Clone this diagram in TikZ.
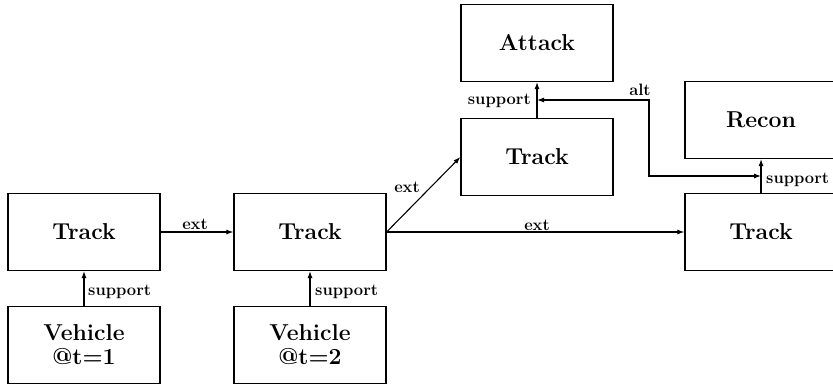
\documentclass[tikz,border=0pt]{standalone}
\usetikzlibrary{arrows.meta,calc}
\begin{document}
\begin{tikzpicture}[x=1pt,y=-1pt,
  box/.style={draw,line width=1.2pt,rectangle,minimum width=152pt,minimum height=77pt,
    inner sep=0pt,align=center,font=\fontsize{23}{24}\selectfont\bfseries},
  arr/.style={line width=1.1pt,-{Latex[length=7pt,width=5pt]}},
  lbl/.style={inner sep=0pt,font=\fontsize{16.5}{16.5}\selectfont\bfseries}]
\useasboundingbox (0,0) rectangle (833,388);

% boxes
\node[box] (t1) at (84,232) {Track};
\node[box] (v1) at (84,345) {Vehicle\\@t=1};
\node[box] (t2) at (310,232) {Track};
\node[box] (v2) at (310,345) {Vehicle\\@t=2};
\node[box] (attack) at (537,43) {Attack};
\node[box] (t3) at (537,157) {Track};
\node[box] (recon) at (761,120) {Recon};
\node[box] (t4) at (761,232) {Track};

% support links
\draw[arr] (v1.north) -- (t1.south);
\draw[arr] (v2.north) -- (t2.south);
\draw[arr] (t3.north) -- (attack.south);
\draw[arr] (t4.north) -- (recon.south);
\node[lbl,anchor=west] (s1) at (88,292) {support};
\node[lbl,anchor=west] (s2) at (315,292) {support};
\node[lbl,anchor=east] (s3) at (531,101) {support};
\node[lbl,anchor=west] (s4) at (766,180) {support};

% ext links
\draw[arr] (t1.east) -- (t2.west);
\draw[arr] (t2.east) -- (t3.west);
\draw[arr] (t2.east) -- (t4.west);
\node[lbl] (e1) at (195,224) {ext};
\node[lbl] (e2) at (407,187) {ext};
\node[lbl] (e3) at (537,225) {ext};

% alt link between the two support links
\coordinate (altL) at ($(t3.north)!0.5!(attack.south)$);
\coordinate (altR) at ($(t4.north)!0.5!(recon.south)$);
\draw[arr,{Latex[length=7pt,width=5pt]}-{Latex[length=7pt,width=5pt]}]
  (altR) -- ++(-112,0) |- (altL);
\node[lbl] (alt) at (640,90) {alt};
\end{tikzpicture}
\end{document}
